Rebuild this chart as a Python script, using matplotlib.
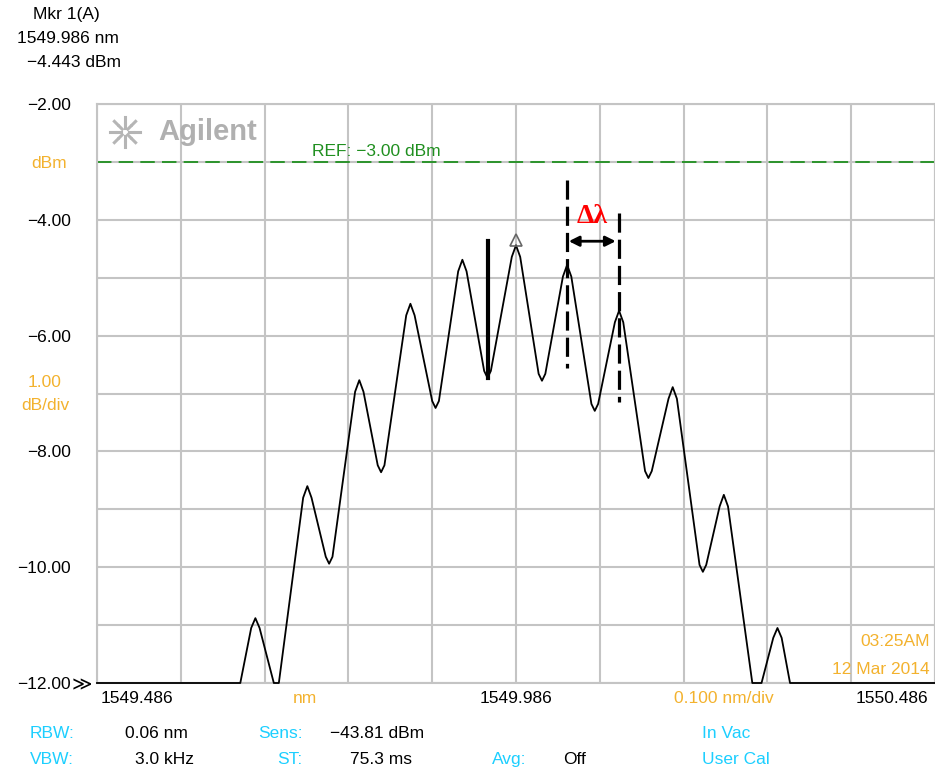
import matplotlib
matplotlib.use("Agg")
import matplotlib.pyplot as plt
import numpy as np

# OSA trace, wavelength in nm and power in dBm
wavelength = [1549.486, 1549.657, 1549.670, 1549.675, 1549.680, 1549.697, 1549.703,
              1549.732, 1549.737, 1549.742, 1549.759, 1549.763, 1549.767,
              1549.794, 1549.799, 1549.804, 1549.821, 1549.825, 1549.829,
              1549.855, 1549.860, 1549.865, 1549.886, 1549.890, 1549.894,
              1549.917, 1549.922, 1549.927, 1549.948, 1549.952, 1549.956,
              1549.981, 1549.986, 1549.991, 1550.013, 1550.017, 1550.021,
              1550.042, 1550.047, 1550.052, 1550.076, 1550.080, 1550.084,
              1550.104, 1550.109, 1550.114, 1550.140, 1550.144, 1550.148,
              1550.168, 1550.173, 1550.178, 1550.205, 1550.209, 1550.213,
              1550.229, 1550.234, 1550.239, 1550.268, 1550.279,
              1550.293, 1550.298, 1550.303, 1550.313, 1550.486]
power = [-12, -12, -11.05, -10.88, -11.05, -12, -12,
         -8.80, -8.60, -8.80, -9.82, -9.94, -9.82,
         -6.97, -6.77, -6.97, -8.24, -8.36, -8.24,
         -5.65, -5.45, -5.65, -7.13, -7.25, -7.13,
         -4.89, -4.69, -4.89, -6.61, -6.73, -6.61,
         -4.64, -4.44, -4.64, -6.66, -6.78, -6.66,
         -4.98, -4.78, -4.98, -7.18, -7.30, -7.18,
         -5.77, -5.57, -5.77, -8.34, -8.46, -8.34,
         -7.09, -6.89, -7.09, -9.96, -10.08, -9.96,
         -8.95, -8.75, -8.95, -12, -12,
         -11.22, -11.05, -11.22, -12, -12]

marker_wl = 1549.986
marker_pwr = -4.443
ref_level = -3.00
x_start, x_stop = 1549.486, 1550.486
y_ticks = [-2, -4, -6, -8, -10, -12]

# fringe spacing markers (two adjacent peaks) and the valley mark
dl_left, dl_right = 1550.047, 1550.109
valley_wl, valley_pwr = 1549.952, -6.73

ORANGE = "#f3b22e"
CYAN = "#1ccfff"
GREEN = "#1f8f1f"
GRID = "#c4c4c4"

plt.rcParams['font.family'] = ['Liberation Sans', 'DejaVu Sans']

W, H = 935, 771
fig = plt.figure(figsize=(W / 100, H / 100), dpi=100)
ax = fig.add_axes([97 / W, 88 / H, 838 / W, 579 / H])

ax.set_xlim(x_start, x_stop)
ax.set_ylim(-12, -2)
ax.set_xticks(np.linspace(x_start, x_stop, 11))
ax.set_yticks(np.arange(-12, -1, 1))
ax.grid(True, color=GRID, linewidth=1.5)
ax.tick_params(length=0, labelbottom=False, labelleft=False)
for s in ax.spines.values():
    s.set_color(GRID)
    s.set_linewidth(1.5)

# reference level
ax.axhline(ref_level, color=GREEN, linewidth=1.3, dashes=(8, 4))
ax.text(1549.743, ref_level + 0.05, "REF: \u22123.00 dBm", color=GREEN,
        fontsize=12.5, ha="left", va="bottom")

# trace
ax.plot(wavelength, power, color="black", linewidth=1.3, clip_on=False, zorder=5)
ax.plot([marker_wl], [marker_pwr + 0.1], marker="^", markersize=9, mfc="none",
        mec="#666666", mew=1.2, zorder=6)

# annotations
ax.plot([valley_wl, valley_wl], [-4.37, valley_pwr], color="black", linewidth=3, zorder=6)
ax.plot([dl_left, dl_left], [-3.31, -6.56], color="black", linewidth=2.3,
        dashes=(6, 2.2), zorder=6)
ax.plot([dl_right, dl_right], [-3.88, -7.15], color="black", linewidth=2.3,
        dashes=(6, 2.2), zorder=6)
ax.annotate("", xy=(dl_left + 0.002, -4.37), xytext=(dl_right - 0.004, -4.37),
            arrowprops=dict(arrowstyle="<|-|>", color="black", lw=2,
                            mutation_scale=15, shrinkA=0, shrinkB=0), zorder=7)
ax.text((dl_left + dl_right) / 2 - 0.001, -4.16, "\u0394\u03bb", color="red",
        fontsize=20, fontweight="bold", family=["Liberation Serif", "DejaVu Serif"],
        ha="center", va="bottom", zorder=7)

# Agilent logo
cx, cy = 125 / W, 1 - 132 / H
for ang in np.arange(0, 360, 45):
    a = np.deg2rad(ang)
    for r0, r1 in [(4, 8), (10, 15)]:
        fig.add_artist(plt.Line2D([cx + r0 * np.cos(a) / W, cx + r1 * np.cos(a) / W],
                                  [cy + r0 * np.sin(a) / H, cy + r1 * np.sin(a) / H],
                                  color="#b5b5b5", linewidth=2.2))
fig.text(158 / W, 1 - 132 / H, "Agilent", color="#b0b0b0", fontsize=21,
         fontweight="bold", ha="left", va="center")

def ftext(px, py, s, color="black", ha="left", size=12.5):
    fig.text(px / W, 1 - py / H, s, color=color, ha=ha, va="center_baseline",
             fontsize=size)

# marker readout
ftext(66, 13, "Mkr 1(A)", ha="center")
ftext(68, 37, "1549.986 nm", ha="center")
ftext(74, 61, "\u22124.443 dBm", ha="center")

# y axis labels
for v in y_ticks:
    py = 104 + (-2 - v) * 57.9
    if v == -12:
        ftext(71, py, "\u221212.00", ha="right")
        fig.text(72 / W, 1 - py / H, "\u226b", ha="left", va="center_baseline",
                 fontsize=14, family=["DejaVu Sans"])
    else:
        ftext(71, py, "\u2212%.2f" % abs(v), ha="right")
ftext(49, 162, "dBm", color=ORANGE, ha="center")
ftext(45, 381, "1.00", color=ORANGE, ha="center")
ftext(45, 404, "dB/div", color=ORANGE, ha="center")

# x axis labels
ftext(137, 697, "1549.486", ha="center")
ftext(305, 697, "nm", color=ORANGE, ha="center")
ftext(516, 697, "1549.986", ha="center")
ftext(724, 697, "0.100 nm/div", color=ORANGE, ha="center")
ftext(892, 697, "1550.486", ha="center")

ftext(930, 640, "03:25AM", color=ORANGE, ha="right")
ftext(930, 668, "12 Mar 2014", color=ORANGE, ha="right")

# settings block
ftext(30, 732, "RBW:", color=CYAN)
ftext(125, 732, "0.06 nm")
ftext(258, 732, "Sens:", color=CYAN)
ftext(330, 732, "\u221243.81 dBm")
ftext(702, 732, "In Vac", color=CYAN)
ftext(30, 758, "VBW:", color=CYAN)
ftext(135, 758, "3.0 kHz")
ftext(277, 758, "ST:", color=CYAN)
ftext(350, 758, "75.3 ms")
ftext(492, 758, "Avg:", color=CYAN)
ftext(563, 758, "Off")
ftext(702, 758, "User Cal", color=CYAN)

fig.savefig("out.png", dpi=100)
